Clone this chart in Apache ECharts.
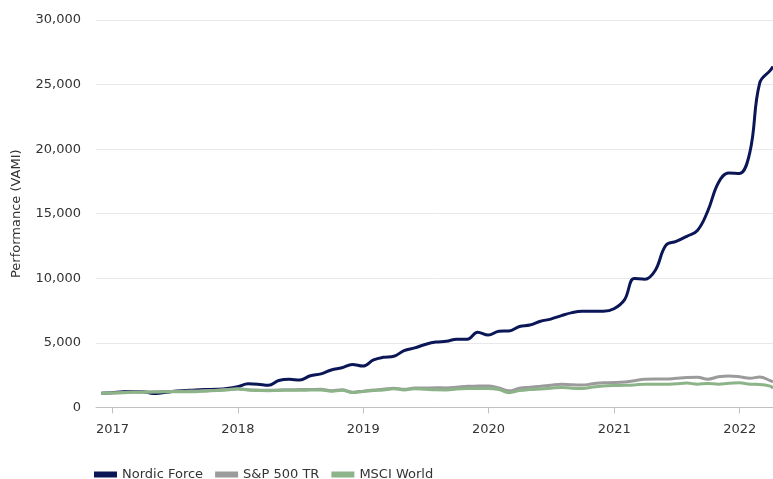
<!DOCTYPE html>
<html>
<head>
<meta charset="utf-8">
<script src="https://cdn.jsdelivr.net/npm/echarts@6/dist/echarts.min.js"></script>
<style>
html,body{margin:0;padding:0;background:#fff;}
#chart{width:773px;height:479px;}
</style>
</head>
<body>
<div id="chart"></div>
<script>
var dates = [
  '2016-11-30','2016-12-31',
  '2017-01-31','2017-02-28','2017-03-31','2017-04-30','2017-05-31','2017-06-30','2017-07-31','2017-08-31','2017-09-30','2017-10-31','2017-11-30','2017-12-31',
  '2018-01-31','2018-02-28','2018-03-31','2018-04-30','2018-05-31','2018-06-30','2018-07-31','2018-08-31','2018-09-30','2018-10-31','2018-11-30','2018-12-31',
  '2019-01-31','2019-02-28','2019-03-31','2019-04-30','2019-05-31','2019-06-30','2019-07-31','2019-08-31','2019-09-30','2019-10-31','2019-11-30','2019-12-31',
  '2020-01-31','2020-02-29','2020-03-31','2020-04-30','2020-05-31','2020-06-30','2020-07-31','2020-08-31','2020-09-30','2020-10-31','2020-11-30','2020-12-31',
  '2021-01-31','2021-02-28','2021-03-31','2021-04-30','2021-05-31','2021-06-30','2021-07-31','2021-08-31','2021-09-30','2021-10-31','2021-11-30','2021-12-31',
  '2022-01-31','2022-02-28','2022-03-31','2022-04-08'
];
var nordicForce = [
  1100, 1130,
  1220, 1230, 1220, 1080, 1150, 1250, 1300, 1350, 1380, 1400, 1460, 1600,
  1830, 1800, 1720, 2080, 2180, 2120, 2450, 2600, 2900, 3070, 3330, 3200,
  3680, 3880, 3960, 4400, 4610, 4870, 5060, 5120, 5280, 5280, 5820, 5600,
  5900, 5920, 6270, 6380, 6670, 6840, 7110, 7340, 7440, 7440, 7440, 7640,
  8350, 9980, 9920, 10600, 12550, 12850, 13250, 13700, 15200, 17400, 18150, 18120,
  19800, 25100, 26100, 26400
];
var sp500TR = [
  1100, 1120,
  1150, 1190, 1190, 1210, 1230, 1240, 1260, 1270, 1300, 1330, 1380, 1450,
  1370, 1340, 1320, 1350, 1370, 1380, 1390, 1400, 1290, 1370, 1180, 1260,
  1340, 1400, 1490, 1400, 1500, 1500, 1520, 1510, 1560, 1630, 1650, 1660,
  1500, 1280, 1480, 1560, 1640, 1720, 1800, 1750, 1730, 1830, 1910, 1920,
  1960, 2060, 2180, 2190, 2190, 2250, 2320, 2330, 2180, 2370, 2440, 2380,
  2260, 2350, 2080, 1980
];
var msciWorld = [
  1100, 1110,
  1130, 1170, 1180, 1190, 1210, 1210, 1220, 1220, 1260, 1300, 1340, 1420,
  1340, 1310, 1290, 1310, 1330, 1330, 1340, 1350, 1260, 1320, 1150, 1230,
  1300, 1350, 1440, 1350, 1440, 1400, 1360, 1350, 1420, 1460, 1470, 1470,
  1380, 1140, 1300, 1380, 1430, 1480, 1550, 1490, 1470, 1580, 1650, 1690,
  1710, 1740, 1790, 1790, 1790, 1830, 1880, 1800, 1850, 1800, 1870, 1900,
  1790, 1780, 1650, 1470
];
var seriesNames = ['Nordic Force', 'S&P 500 TR', 'MSCI World'];
var seriesColors = ['#0b1657', '#9b9b9b', '#8db389'];
var xTickLabels = ['2017', '2018', '2019', '2020', '2021', '2022'];
var yTicks = [0, 5000, 10000, 15000, 20000, 25000, 30000];
var yName = 'Performance (VAMI)';
var xMin = '2016-11-14', xMax = '2022-04-08';

function ts(s) { return Date.parse(s + 'T00:00:00Z'); }
function pairs(vals) {
  return vals.map(function (v, i) { return [ts(dates[i]), v]; });
}
var xTickValues = xTickLabels.map(function (y) { return ts(y + '-01-01'); });
var font = 'DejaVu Sans';
var chart = echarts.init(document.getElementById('chart'), null, {renderer: 'canvas'});
var allData = [nordicForce, sp500TR, msciWorld];
chart.setOption({
  animation: false,
  backgroundColor: '#ffffff',
  grid: {left: 96, right: 0, top: 20, bottom: 71.6, containLabel: false},
  legend: {
    data: seriesNames,
    left: 89, top: 463,
    icon: 'rect', itemWidth: 23, itemHeight: 6, itemGap: 12,
    textStyle: {fontFamily: font, fontSize: 13, color: '#333333'}
  },
  xAxis: {
    type: 'value',
    min: ts(xMin),
    max: ts(xMax),
    splitLine: {show: false},
    axisLine: {show: true, lineStyle: {color: '#c0c0c0', width: 1}},
    axisTick: {show: true, length: 6, lineStyle: {color: '#c0c0c0'}, customValues: xTickValues},
    axisLabel: {
      fontFamily: font, fontSize: 13, color: '#333333', margin: 16,
      customValues: xTickValues,
      formatter: function (v) { return String(new Date(v).getUTCFullYear()); }
    }
  },
  yAxis: {
    type: 'value',
    min: yTicks[0], max: yTicks[yTicks.length - 1], interval: 5000,
    name: yName,
    nameLocation: 'middle',
    nameGap: 73,
    nameTextStyle: {fontFamily: font, fontSize: 13, color: '#333333'},
    axisLine: {show: false},
    axisTick: {show: false},
    axisLabel: {
      fontFamily: font, fontSize: 13, color: '#333333', margin: 15,
      formatter: function (v) { return v.toLocaleString('en-US'); }
    },
    splitLine: {lineStyle: {color: '#e8e8e8', width: 1}}
  },
  series: seriesNames.map(function (n, i) {
    return {
      name: n, type: 'line', data: pairs(allData[i]),
      smooth: 0.4, symbol: 'none',
      lineStyle: {color: seriesColors[i], width: 3},
      itemStyle: {color: seriesColors[i]}
    };
  })
});
</script>
</body>
</html>
